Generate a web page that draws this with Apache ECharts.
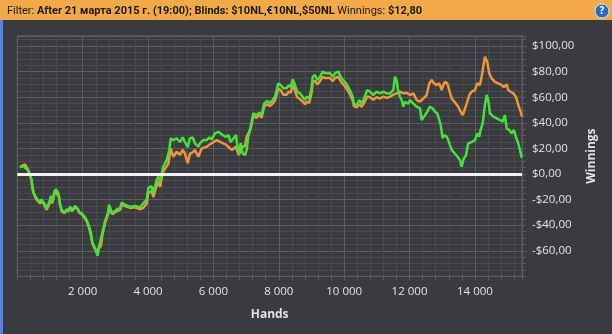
<!DOCTYPE html>
<html>
<head>
<meta charset="utf-8">
<script src="https://cdn.jsdelivr.net/npm/echarts@6/dist/echarts.min.js"></script>
<style>
html,body{margin:0;padding:0;background:#3a3b3f;}
#c{width:612px;height:334px;}
</style>
</head>
<body>
<div id="c"></div>
<script>
// ---- data ----
const headerText = {
  filterLabel: 'Filter:',
  filterValue: 'After 21 марта 2015 г. (19:00); Blinds: $10NL,€10NL,$50NL',
  winLabel: 'Winnings:',
  winValue: '$12,80'
};
const xAxisName = 'Hands';
const yAxisName = 'Winnings';

const greenHands = [80,113,200,236,318,388,440,459,489,563,624,694,746,826,899,948,1000,1031,1071,1132,1175,1236,1276,1306,1358,1438,1511,1560,1612,1682,1765,1848,1887,1970,2050,2123,2193,2254,2294,2355,2398,2429,2459,2499,2560,2600,2683,2735,2784,2805,2866,2906,2967,3041,3142,3194,3295,3448,3601,3754,3854,3958,4007,4111,4160,4264,4313,4370,4417,4466,4518,4570,4619,4650,4693,4772,4876,4977,5060,5130,5213,5283,5366,5436,5537,5589,5690,5794,5873,5947,6048,6149,6253,6384,6455,6528,6608,6690,6730,6773,6834,6895,6966,7017,7066,7140,7219,7323,7403,7476,7547,7648,7730,7813,7883,7935,7984,8057,8137,8241,8300,8363,8425,8495,8565,8648,8730,8801,8853,8932,9006,9036,9107,9177,9260,9342,9413,9465,9565,9648,9719,9820,9893,9973,10055,10125,10199,10260,10300,10382,10462,10535,10606,10707,10789,10890,10994,11095,11196,11300,11401,11502,11554,11606,11655,11707,11759,11808,11860,11961,12013,12114,12218,12319,12371,12420,12472,12542,12625,12707,12778,12848,12910,12952,13013,13053,13136,13184,13236,13288,13389,13441,13542,13594,13643,13726,13796,13900,14001,14071,14132,14175,14236,14307,14359,14408,14460,14561,14665,14766,14849,14919,14971,15051,15124,15194,15255,15326,15378,15430];
const greenValues = [5.7,7,6,6.5,3,0,-4.7,-10,-14,-18,-20,-21.6,-20,-23,-27,-25.5,-20,-17,-21.6,-14,-12,-14,-17,-23,-28,-30,-27.5,-29.5,-25.5,-28.5,-25,-27,-29.5,-30.7,-33,-36,-40.6,-46,-53,-57,-58,-62,-64,-57,-55.5,-46,-37,-36,-29.5,-24,-23.5,-30.7,-29.5,-27.6,-27,-22.4,-24,-25.5,-25,-26,-23,-20,-11,-9.5,-15,-4.7,-2,-6,0.5,5.7,5,11,12,18.8,27.9,26.5,27.9,25,28.6,25,21,28,28.6,24,21.3,24,26.5,26.5,28.6,27,31.8,33,31,29,30.5,25,27.5,30.5,22.6,15.6,24,16,14.8,18.8,29,37,47.4,46,48,46,55,57,55.5,57.8,60.4,65.6,70.8,69.5,67,67,69.5,68,74,69.5,64.3,63,60.4,57.8,60.4,59,68,76,77.3,73.4,76,80,78.7,77.3,78.7,76,78.7,80,76,73.4,70.8,68,64.3,60.4,55,54,57.8,55,59,65.6,64.3,61.7,64.3,63,64.3,63,63,65.6,76,73.4,64.3,60.4,57.8,52.6,56.5,55,57.8,55,52.6,51.3,42.2,41,46,48.7,52.6,51.3,48.7,47.4,42.2,38.3,27.9,30.5,29.2,26.5,22.6,18.8,16,14.8,11,5.7,11,14.8,24,25,26.5,31.8,29.2,34.4,39.6,54,61.7,57.8,47.4,44.8,43.5,42.2,41,46,35.7,34.4,31.8,34.4,29,24,18.8,12.8];

const orangeHands = [80,150,236,318,388,440,470,500,563,624,694,746,826,899,948,1000,1031,1071,1132,1175,1236,1276,1306,1358,1438,1511,1560,1612,1682,1765,1848,1887,1970,2050,2123,2193,2254,2294,2355,2398,2429,2459,2499,2560,2600,2683,2735,2784,2805,2866,2906,2967,3041,3142,3194,3295,3448,3601,3754,3854,3958,4007,4111,4160,4264,4313,4370,4417,4466,4518,4570,4619,4650,4693,4772,4876,4977,5060,5130,5213,5283,5366,5436,5537,5640,5794,5947,6100,6253,6384,6455,6560,6690,6773,6895,6966,7017,7140,7219,7323,7403,7476,7547,7648,7730,7813,7883,7935,7984,8057,8137,8241,8300,8363,8425,8495,8565,8648,8730,8801,8853,8932,9006,9036,9107,9177,9260,9342,9413,9465,9565,9648,9719,9820,9893,9973,10055,10125,10199,10260,10300,10382,10462,10535,10606,10707,10789,10890,10994,11095,11196,11300,11401,11502,11606,11707,11808,11910,12013,12114,12218,12319,12420,12522,12603,12677,12747,12830,12909,12983,13032,13083,13154,13215,13288,13337,13420,13490,13564,13625,13665,13747,13827,13900,14001,14071,14153,14205,14254,14307,14376,14437,14510,14611,14712,14816,14888,14971,15020,15094,15173,15255,15326,15399,15439];
const orangeValues = [5,6.5,7.5,4,-1,-6,-11,-15,-19,-21,-23,-21,-24,-28,-27,-22,-19,-23,-16,-14,-15,-18,-24,-29,-30.5,-28.5,-30,-27,-29,-26,-27.5,-30,-31.5,-34,-37,-42,-48,-54,-57.5,-58.5,-60.5,-61.5,-58,-56,-48,-38.5,-37.5,-31,-26,-25,-31.5,-30,-29,-28,-24,-25,-26.5,-26,-27.5,-26.5,-23,-15,-13,-18,-9,-6,-10,-3,2,1,6,8,13,20,13.5,17.4,15,18.8,16,8.4,16,17,18.8,13.5,20,21.3,24,26.5,24.5,23,21.3,18.8,21.3,14.8,21.3,22,29,35.5,45,44,46,44,52.5,54.5,53,55,57.5,62,66.5,65.5,62,62,64.5,63.5,69.5,65,60,58.5,56.5,54.5,56.5,55.5,64,71.5,73,70,72.5,76,75,73.5,75,72.5,75,76,72.5,70,67.5,64.5,61,57.5,53,52,54.5,52.5,55.5,60.5,60,58,60,59,60.5,59.5,60.4,62,63,64.3,63,63.5,61.7,63,57.8,56.5,59,61.7,70.8,73.4,70.8,69.5,70.8,65.6,69.5,72,70.8,69.5,59,57.8,55,52.6,48.7,46,48.7,55,61.7,64.3,65.6,70.8,69.5,76,83.8,91.6,87.7,78.7,74.8,72,70.8,69.5,68,70,65.6,64.3,63,60.4,54,48.7,44.8];

// ---- chart ----
const pairs = (xs, ys) => xs.map((x, i) => [x, ys[i]]);
const fmtHands = v => String(Math.round(v)).replace(/\B(?=(\d{3})+(?!\d))/g, ' ');
const fmtMoney = v => (v < 0 ? '-' : '') + '$' + Math.abs(v).toFixed(2).replace('.', ',');

const gridCol = '#5d5e62';
const minorCol = '#4a4b4f';
const textCol = '#e2e2e2';
const fontFam = '"Open Sans", "Noto Sans", sans-serif';
const headFam = 'Roboto, "Open Sans", sans-serif';

const chart = echarts.init(document.getElementById('c'), null, {renderer: 'canvas'});
chart.setOption({
  backgroundColor: '#3a3b3f',
  animation: false,
  textStyle: {fontFamily: fontFam},
  grid: {left: 17.3, top: 35.8, width: 504.7, height: 240.6, show: true, borderColor: gridCol, borderWidth: 1, backgroundColor: 'transparent'},
  xAxis: {
    type: 'value', min: 0, max: 15440, interval: 2000,
    axisLine: {show: true, onZero: false, lineStyle: {color: gridCol}},
    axisTick: {show: true, length: 4, lineStyle: {color: gridCol}},
    minorTick: {show: true, splitNumber: 5, length: 4, lineStyle: {color: gridCol}},
    splitLine: {show: true, lineStyle: {color: gridCol, width: 1}},
    minorSplitLine: {show: true, lineStyle: {color: minorCol, width: 1}},
    axisLabel: {showMinLabel: false, showMaxLabel: false, color: textCol, fontSize: 11.5, margin: 9, fontFamily: fontFam, formatter: fmtHands},
    name: xAxisName, nameLocation: 'middle', nameGap: 32,
    nameTextStyle: {color: textCol, fontWeight: 'bold', fontSize: 12, fontFamily: fontFam}
  },
  yAxis: {
    type: 'value', position: 'right', min: -80, max: 108, interval: 20,
    axisLine: {show: true, onZero: false, lineStyle: {color: gridCol}},
    axisTick: {show: true, length: 4, lineStyle: {color: gridCol}},
    minorTick: {show: true, splitNumber: 4, length: 4, lineStyle: {color: gridCol}},
    splitLine: {show: true, lineStyle: {color: gridCol, width: 1}},
    minorSplitLine: {show: true, lineStyle: {color: minorCol, width: 1}},
    axisLabel: {showMinLabel: false, showMaxLabel: false, color: textCol, fontSize: 11.5, margin: 10, fontFamily: fontFam, formatter: fmtMoney},
    name: yAxisName, nameLocation: 'middle', nameGap: 54, nameRotate: 90,
    nameTextStyle: {color: textCol, fontWeight: 'bold', fontSize: 12, fontFamily: fontFam}
  },
  series: [
    {
      type: 'line', data: pairs(orangeHands, orangeValues), showSymbol: false, symbol: 'none',
      lineStyle: {color: '#ef953c', width: 2.5}, itemStyle: {color: '#ef953c'}, z: 2
    },
    {
      type: 'line', data: pairs(greenHands, greenValues), showSymbol: false, symbol: 'none',
      lineStyle: {color: '#43e33b', width: 2.5}, itemStyle: {color: '#43e33b'}, z: 3,
      markLine: {
        silent: true, symbol: ['none', 'none'], label: {show: false},
        lineStyle: {color: '#f2f2f2', width: 3, type: 'solid'},
        data: [{yAxis: 0}]
      }
    }
  ],
  graphic: [
    {type: 'rect', shape: {x: 0, y: 0, width: 612, height: 20}, style: {fill: '#f2a948'}, z: 10},
    {type: 'rect', shape: {x: 0, y: 20, width: 3, height: 314}, style: {fill: '#5d80d8'}, z: 10},
    {type: 'circle', shape: {cx: 602, cy: 11, r: 7}, style: {fill: '#2b6cc2', stroke: '#d8e6f7', lineWidth: 1}, z: 10},
    {type: 'text', x: 602, y: 11, style: {text: '?', fill: '#ffffff', font: 'bold 10px ' + fontFam, align: 'center', verticalAlign: 'middle'}, z: 11},
    {type: 'text', x: 7, y: 11, z: 11, style: {
      text: '{n|' + headerText.filterLabel + '} {b|' + headerText.filterValue + '} {n|' + headerText.winLabel + '} {b|' + headerText.winValue + '}',
      verticalAlign: 'middle', fill: '#1a1a1a', fontFamily: headFam, fontSize: 11,
      rich: {
        n: {fontWeight: 'normal', fontSize: 11, fontFamily: headFam, fill: '#1a1a1a', color: '#1a1a1a'},
        b: {fontWeight: 'bold', fontSize: 11, fontFamily: headFam, fill: '#1a1a1a', color: '#1a1a1a'}
      }
    }}
  ]
});
</script>
</body>
</html>
